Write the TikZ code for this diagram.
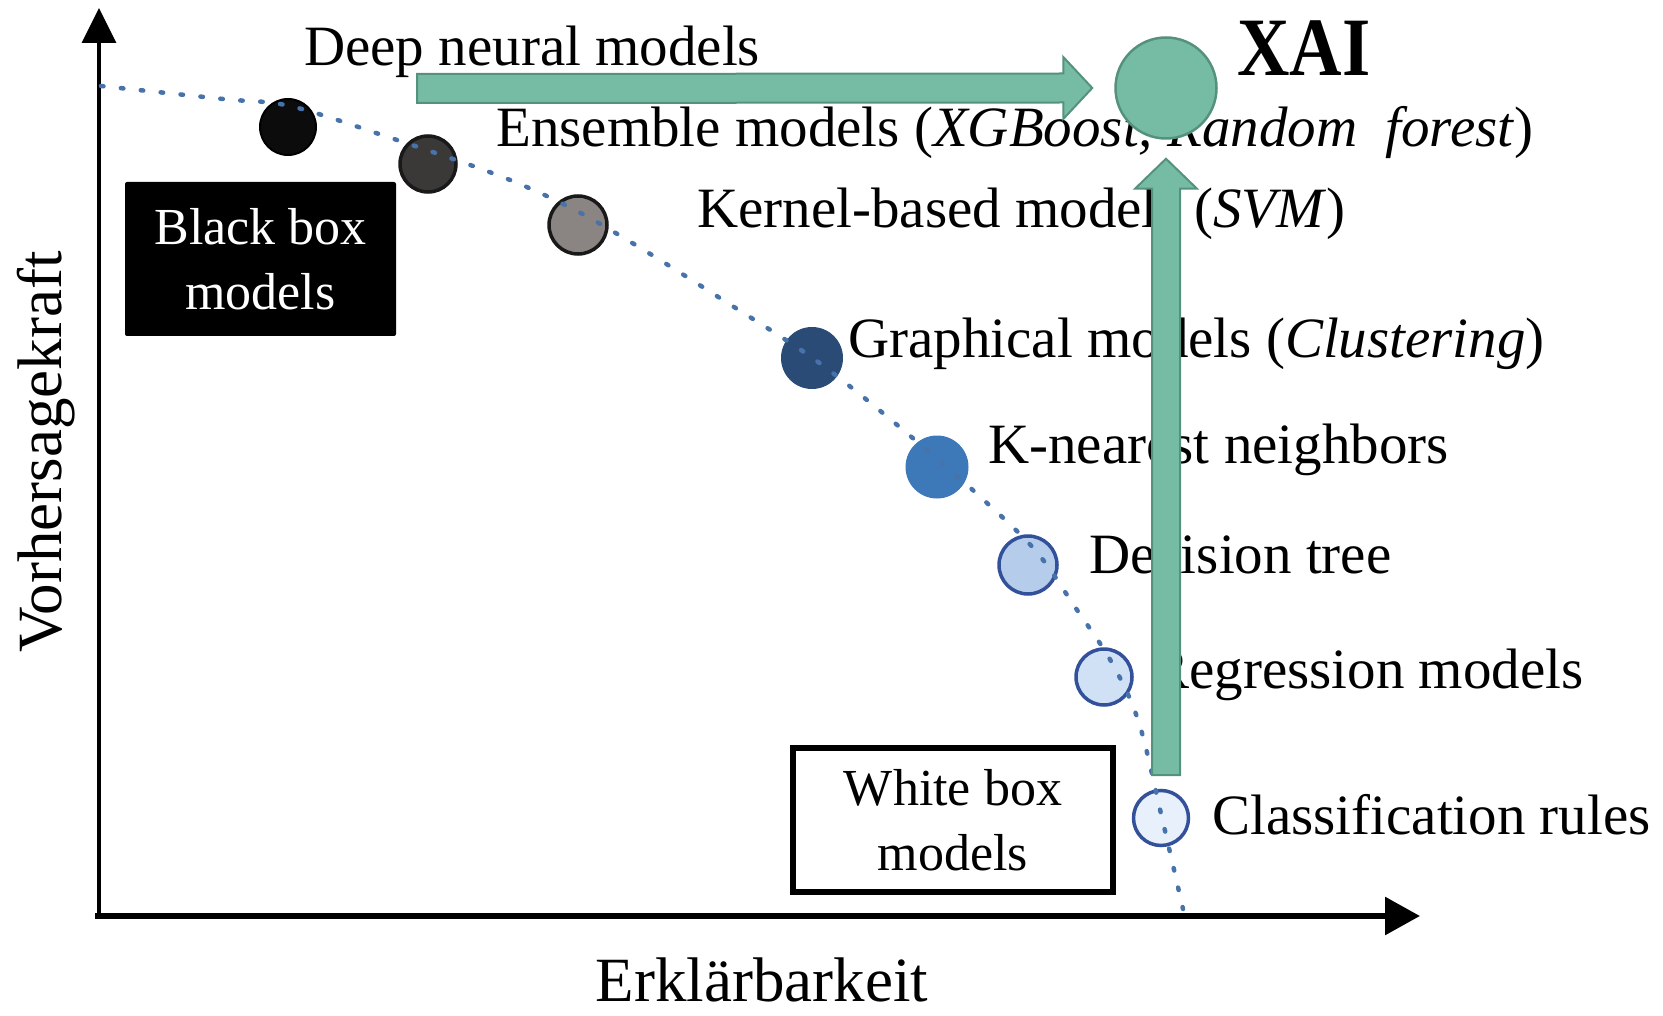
\documentclass[tikz,border=0pt]{standalone}
\usepackage{fontspec}
\setmainfont{Liberation Serif}
\usetikzlibrary{arrows.meta,calc}

\definecolor{xaigreen}{RGB}{118,188,165}
\definecolor{xaiedge}{RGB}{84,146,124}
\definecolor{trend}{RGB}{72,115,170}
\definecolor{mA}{RGB}{12,12,12}
\definecolor{mB}{RGB}{59,56,56}
\definecolor{mC}{RGB}{138,132,130}
\definecolor{mD}{RGB}{42,75,117}
\definecolor{mE}{RGB}{61,120,184}
\definecolor{mF}{RGB}{181,205,234}
\definecolor{mG}{RGB}{208,225,245}
\definecolor{mH}{RGB}{232,240,251}
\definecolor{ringblue}{RGB}{51,80,154}

\tikzset{
  lbl/.style={font=\fontsize{57}{68}\selectfont, anchor=base west, inner sep=0pt},
  axislbl/.style={font=\fontsize{63}{70}\selectfont, inner sep=0pt},
  model/.style={circle, inner sep=0pt, line width=3.5pt},
  boxlbl/.style={font=\fontsize{52}{65}\selectfont, align=center, inner sep=0pt},
  fatarrow/.style={fill=xaigreen, draw=xaiedge, line width=2pt, line join=miter},
  trendline/.style={draw=trend, line width=4.5pt, line cap=round, dash pattern=on 2.5pt off 17.5pt},
}

\begin{document}
\begin{tikzpicture}[x=1pt,y=-1pt]
\useasboundingbox (0,0) rectangle (1663,1016);

% axes
\coordinate (yfoot) at (99,918);
\coordinate (ytop) at (99,8);
\coordinate (xfoot) at (95,916);
\coordinate (xend) at (1420,916);
\draw[line width=3.5pt, -{Triangle[length=35pt,width=34pt]}] (yfoot) -- (ytop);
\draw[line width=6pt, -{Triangle[length=35pt,width=37pt]}] (xfoot) -- (xend);
\node[axislbl, rotate=90, anchor=base] (ylab) at (61,452) {Vorhersagekraft};
\node[axislbl, anchor=base] (xlab) at (762,1001) {Erklärbarkeit};

% model families along the trade-off curve
\node[model, fill=mA, draw=black, line width=2pt, minimum size=56pt] (m1) at (288,127) {};
\node[model, fill=mB, draw=black!90, minimum size=56pt] (m2) at (428,164) {};
\node[model, fill=mC, draw=black!90, minimum size=58pt] (m3) at (578,225) {};
\node[model, fill=mD, draw=mD, line width=1pt, minimum size=61pt] (m4) at (812,358) {};
\node[model, fill=mE, draw=mE, line width=1pt, minimum size=62pt] (m5) at (937,467) {};
\node[model, fill=mF, draw=ringblue, minimum size=58pt] (m6) at (1028,565) {};
\node[model, fill=mG, draw=ringblue, minimum size=56pt] (m7) at (1104,677) {};
\node[model, fill=mH, draw=ringblue, minimum size=55pt] (m8) at (1161,818) {};

% trade-off curve
\draw[trendline] plot[smooth, tension=0.55] coordinates {
  (101,86) (223,99) (290,106) (388,137) (500,176) (575,210) (647,252)
  (723,300) (801,350) (852,388) (915,440) (976,493) (1035,550)
  (1075,607) (1112,663) (1139,723) (1162,818) (1183,909)};

% labels
\node[lbl] (t1) at (304,66) {Deep neural models};
\node[lbl] (t2) at (496,147) {Ensemble models (\textit{XGBoost, Random\hspace{14pt} forest})};
\node[lbl] (t3) at (697,228) {Kernel-based models (\textit{SVM})};
\node[lbl] (t4) at (848,358) {Graphical models (\textit{Clustering})};
\node[lbl] (t5) at (988,463) {K-nearest neighbors};
\node[lbl] (t6) at (1089,573) {Decision tree};
\node[lbl] (t7) at (1151,688) {Regression models};
\node[lbl] (t8) at (1212,834) {Classification rules};

% category boxes
\node[boxlbl, fill=black, text=white, rounded corners=2pt,
      minimum width=271pt, minimum height=154pt] (bbox) at (260.5,259) {Black box\\models};
\node[boxlbl, draw=black, line width=6pt, fill=white,
      minimum width=320pt, minimum height=144pt] (wbox) at (953,820) {White box\\models};

% XAI target
\node[circle, fill=xaigreen, draw=xaiedge, line width=2.5pt, minimum size=101pt, inner sep=0pt] (xai) at (1166,88) {};
\node[font=\fontsize{83}{90}\selectfont\bfseries, anchor=base west, inner sep=0pt] (xailbl) at (1237,76) {\scalebox{0.875}[1]{XAI}};

% block arrows towards XAI
\coordinate (deepTail) at (417,88.5);
\coordinate (deepTip) at ($(xai.west)+(-22,0)$);
\draw[fatarrow] ($(deepTail)+(0,-14.5)$) -- ($(deepTip)+(-29,-14.5)$) -- ($(deepTip)+(-29,-31)$)
  -- (deepTip) -- ($(deepTip)+(-29,31)$) -- ($(deepTip)+(-29,14.5)$) -- ($(deepTail)+(0,14.5)$) -- cycle;

\coordinate (whiteTip) at ($(xai.south)+(0,19)$);
\coordinate (whiteTail) at (whiteTip |- 0,775);
\draw[fatarrow] ($(whiteTail)+(-14,0)$) -- ($(whiteTip)+(-14,30)$) -- ($(whiteTip)+(-31,30)$)
  -- (whiteTip) -- ($(whiteTip)+(31,30)$) -- ($(whiteTip)+(14,30)$) -- ($(whiteTail)+(14,0)$) -- cycle;
\end{tikzpicture}
\end{document}
